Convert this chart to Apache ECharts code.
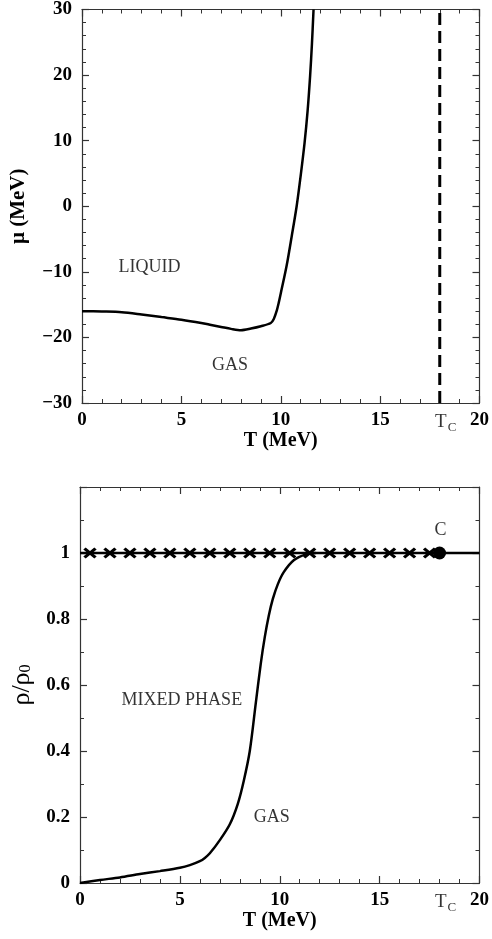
<!DOCTYPE html>
<html>
<head>
<meta charset="utf-8">
<script src="https://cdn.jsdelivr.net/npm/echarts@6/dist/echarts.min.js"></script>
<style>
  html, body { margin: 0; padding: 0; background: #fff; }
  #phase-chart { width: 492px; height: 939px; }
</style>
</head>
<body>
<div id="phase-chart"></div>
<script>
// upper panel: mu(T) on the coexistence line
const muT   = [0, 1, 2, 3, 4, 5, 6, 6.5, 7, 7.5, 8, 8.5, 9, 9.5, 9.65, 9.8, 9.9, 10, 10.3, 10.55, 10.8, 11, 11.2, 11.35, 11.48, 11.57, 11.65]
const muVal = [-16, -16.05, -16.15, -16.5, -16.9, -17.3, -17.8, -18.1, -18.4, -18.7, -18.9, -18.65, -18.3, -17.8, -17.2, -15.9, -14.7, -13.3, -9.0, -4.6, 0.0, 4.6, 9.7, 14.5, 20.0, 24.8, 30]
const tcT   = [18, 18]
const tcMu  = [-30, 30]

// lower panel: rho/rho0(T)
const rhoT   = [0, 1, 2, 3, 4, 5, 5.5, 6, 6.25, 6.5, 7, 7.5, 7.9, 8.2, 8.5, 8.8, 9.05, 9.25, 9.45, 9.65, 9.9, 10.2, 10.7, 11.3, 11.8]
const rhoVal = [0, 0.009, 0.017, 0.027, 0.036, 0.046, 0.054, 0.066, 0.076, 0.09, 0.13, 0.178, 0.24, 0.31, 0.40, 0.545, 0.665, 0.745, 0.81, 0.86, 0.905, 0.942, 0.978, 0.996, 1.0]
const flatT   = [0, 20]
const flatRho = [1, 1]
const crossT  = [0.5, 1.5, 2.5, 3.5, 4.5, 5.5, 6.5, 7.5, 8.5, 9.5, 10.5, 11.5, 12.5, 13.5, 14.5, 15.5, 16.5, 17.5]
const critT   = [18]
const critRho = [1]

// text in the plots: [text, T, value]
const topNotes = [['LIQUID', 3.4, -9.3], ['GAS', 7.45, -24.3]]
const botNotes = [['MIXED PHASE', 5.1, 0.555], ['GAS', 9.6, 0.2], ['C', 18.05, 1.068]]

const serif = 'Liberation Serif'
const frame = '#333'

function pairs(xs, ys) {
  return xs.map((x, i) => [x, ys[i]])
}

function axis(opts, mirror) {
  return Object.assign({
    type: 'value',
    axisLine: { show: true, onZero: false, lineStyle: { color: frame, width: 1.2 } },
    axisTick: { show: true, inside: true, length: 7, lineStyle: { color: frame, width: 1.2 } },
    minorTick: { show: true, splitNumber: 5, length: 4, lineStyle: { color: frame, width: 1 } },
    splitLine: { show: false },
    axisLabel: mirror ? { show: false } : {
      color: '#000', fontFamily: serif, fontWeight: 'bold', fontSize: 19, margin: 8
    }
  }, opts)
}

const xBase = { min: 0, max: 20, interval: 5 }
const muBase = { min: -30, max: 30, interval: 10 }
const rhoBase = { min: 0, max: 1.2, interval: 0.2 }

function noteSeries(notes, xi, yi) {
  return {
    type: 'scatter', xAxisIndex: xi, yAxisIndex: yi,
    symbolSize: 0, silent: true,
    data: notes.map(n => ({ value: [n[1], n[2]], name: n[0] })),
    label: {
      show: true, position: 'inside', formatter: p => p.name,
      color: '#000', fontFamily: serif, fontSize: 18, textBorderWidth: 0
    }
  }
}

function tcLabel(xi, yi, y) {
  return {
    type: 'scatter', xAxisIndex: xi, yAxisIndex: yi,
    symbolSize: 0, silent: true, clip: false,
    data: [[18, y]],
    label: {
      show: true, position: 'bottom', distance: 8, offset: [6, 0],
      formatter: 'T{s|C}',
      color: '#000', fontFamily: serif, fontSize: 19, textBorderWidth: 0,
      rich: { s: { color: '#000', fontFamily: serif, fontSize: 13, padding: [10, 0, 0, 1] } }
    }
  }
}

const option = {
  animation: false,
  backgroundColor: '#fff',
  grid: [
    { left: 80, top: 9, width: 402, height: 394 },
    { left: 80, top: 487, width: 405, height: 396 }
  ],
  xAxis: [
    axis(Object.assign({ gridIndex: 0, position: 'bottom', name: 'T (MeV)', nameLocation: 'middle', nameGap: 23,
      nameTextStyle: { color: '#000', fontFamily: serif, fontWeight: 'bold', fontSize: 20 } }, xBase)),
    axis(Object.assign({ gridIndex: 0, position: 'top' }, xBase), true),
    axis(Object.assign({ gridIndex: 1, position: 'bottom', name: 'T (MeV)', nameLocation: 'middle', nameGap: 26,
      nameTextStyle: { color: '#000', fontFamily: serif, fontWeight: 'bold', fontSize: 20 } }, xBase)),
    axis(Object.assign({ gridIndex: 1, position: 'top' }, xBase), true)
  ],
  yAxis: [
    axis(Object.assign({ gridIndex: 0, position: 'left', name: 'μ (MeV)', nameLocation: 'middle', nameGap: 53,
      nameTextStyle: { color: '#000', fontFamily: serif, fontWeight: 'bold', fontSize: 21 },
      axisLabel: { color: '#000', fontFamily: serif, fontWeight: 'bold', fontSize: 19, margin: 10,
        formatter: v => String(v).replace('-', '\u2212') } }, muBase)),
    axis(Object.assign({ gridIndex: 0, position: 'right' }, muBase), true),
    axis(Object.assign({ gridIndex: 1, position: 'left', name: 'ρ/ρ{s|0}', nameLocation: 'middle', nameGap: 45,
      nameTextStyle: { color: '#000', fontFamily: serif, fontSize: 26,
        rich: { s: { color: '#000', fontFamily: serif, fontSize: 16, padding: [8, 0, 0, 0] } } },
      minorTick: { show: true, splitNumber: 2, length: 4, lineStyle: { color: frame, width: 1 } },
      axisLabel: { color: '#000', fontFamily: serif, fontWeight: 'bold', fontSize: 19, margin: 10,
        formatter: v => Math.abs(v - 1.2) < 1e-6 ? '' : String(+v.toFixed(1)) } }, rhoBase)),
    axis(Object.assign({ gridIndex: 1, position: 'right',
      minorTick: { show: true, splitNumber: 2, length: 4, lineStyle: { color: frame, width: 1 } } }, rhoBase), true)
  ],
  series: [
    {
      type: 'line', xAxisIndex: 0, yAxisIndex: 0, data: pairs(muT, muVal),
      symbol: 'none', smooth: 0.3, lineStyle: { color: '#000', width: 2.5 }
    },
    {
      type: 'line', xAxisIndex: 0, yAxisIndex: 0, data: pairs(tcT, tcMu),
      symbol: 'none', lineStyle: { color: '#000', width: 3, type: [12, 6] }
    },
    noteSeries(topNotes, 0, 0),
    tcLabel(0, 0, -30),
    {
      type: 'line', xAxisIndex: 2, yAxisIndex: 2, data: pairs(flatT, flatRho),
      symbol: 'none', lineStyle: { color: '#000', width: 2.5 }
    },
    {
      type: 'line', xAxisIndex: 2, yAxisIndex: 2, data: pairs(rhoT, rhoVal),
      symbol: 'none', smooth: 0.3, lineStyle: { color: '#000', width: 2.5 }
    },
    {
      type: 'scatter', xAxisIndex: 2, yAxisIndex: 2, data: crossT.map(t => [t, 1]),
      symbol: 'path://M0,0 L10,8 M10,0 L0,8', symbolSize: [11, 9],
      itemStyle: { color: 'none', borderColor: '#000', borderWidth: 3, opacity: 1 }
    },
    {
      type: 'scatter', xAxisIndex: 2, yAxisIndex: 2, data: pairs(critT, critRho),
      symbol: 'circle', symbolSize: 13, itemStyle: { color: '#000', opacity: 1 }
    },
    noteSeries(botNotes, 2, 2),
    tcLabel(2, 2, 0)
  ]
}

const myChart = echarts.init(document.getElementById('phase-chart'))
myChart.setOption(option)
</script>
</body>
</html>
